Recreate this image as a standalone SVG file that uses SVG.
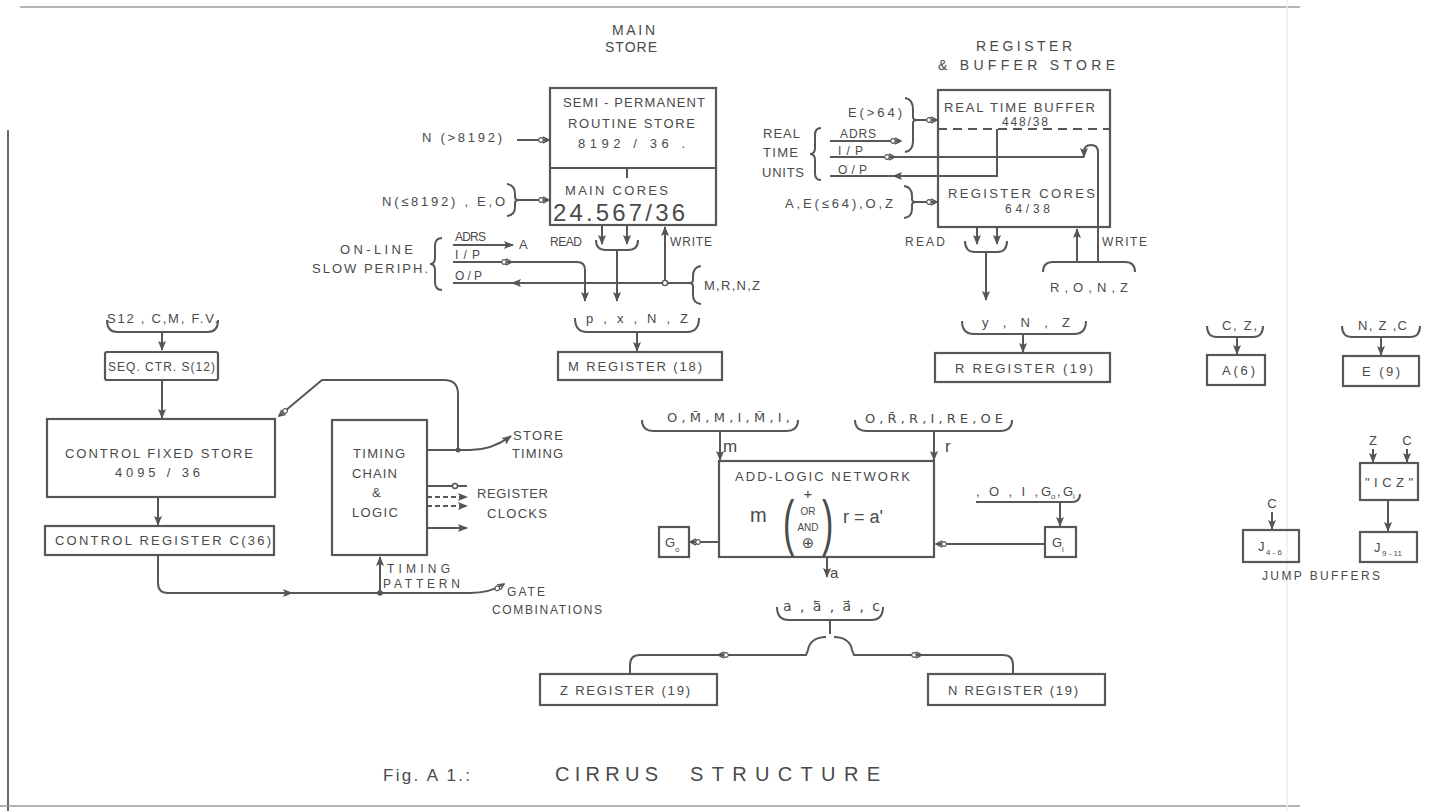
<svg xmlns="http://www.w3.org/2000/svg" width="1444" height="811" viewBox="0 0 1444 811">
<defs>
<style>
.t{font-family:"Liberation Sans","DejaVu Sans",sans-serif;font-size:13px;fill:#4a4a4a}
.s{font-size:12px}
.ti{font-size:14px}
.d{font-family:"DejaVu Sans","Liberation Sans",sans-serif}
.ln{fill:none;stroke:#575757;stroke-width:2}
.dash{stroke-dasharray:5 3}
.bx{fill:none;stroke:#575757;stroke-width:2.2}
.fr{fill:none;stroke:#9a9a9a;stroke-width:1.5}
</style>
<marker id="ar" viewBox="0 0 10 8" refX="9" refY="4" markerWidth="10" markerHeight="8" markerUnits="userSpaceOnUse" orient="auto"><path d="M0,0 L10,4 L0,8 L2,4 z" fill="#555"/></marker>
<marker id="ao" viewBox="0 0 12 8" refX="11" refY="4" markerWidth="12" markerHeight="8" markerUnits="userSpaceOnUse" orient="auto"><circle cx="3" cy="4" r="2.3" fill="#fff" stroke="#555" stroke-width="1.2"/><path d="M5,1 L11,4 L5,7" fill="none" stroke="#555" stroke-width="1.4"/></marker>
</defs>
<rect x="0" y="0" width="1444" height="811" fill="#fff"/>
<g id="scan-frame">
<path class="fr" d="M20,7 H1300"/>
<path class="fr" d="M8,130 V811" style="stroke:#666;stroke-width:2"/>
<path class="fr" d="M0,806 H1300"/>
<path class="fr" d="M1287,0 V811" style="stroke:#ececec"/>
</g>

<g id="main-store">
<text class="t ti" x="612" y="35" textLength="43">MAIN</text>
<text class="t ti" x="605" y="52" textLength="52">STORE</text>
<rect class="bx" x="550" y="88" width="166" height="137"/>
<path class="ln" d="M550,168 H716"/>
<text class="t" x="563" y="107" textLength="142">SEMI - PERMANENT</text>
<text class="t" x="568" y="128" textLength="127">ROUTINE STORE</text>
<text class="t" x="578" y="148" textLength="107">8192 / 36 .</text>
<text class="t" x="565" y="195" textLength="103">MAIN CORES</text>
<text class="t" x="553" y="221" style="font-size:24px" textLength="132">24.567/36</text>
</g>

<g id="register-store">
<text class="t ti" x="976" y="51" textLength="96">REGISTER</text>
<text class="t ti" x="938" y="70" textLength="177">&amp; BUFFER STORE</text>
<rect class="bx" x="938" y="90" width="172" height="137"/>
<path class="ln dash" d="M938,129 H1110" style="stroke-dasharray:9 6"/>
<text class="t" x="944" y="112" textLength="151">REAL TIME BUFFER</text>
<text class="t s" x="1002" y="126" textLength="46">448/38</text>
<text class="t" x="948" y="198" textLength="147">REGISTER CORES</text>
<text class="t s" x="1005" y="213" textLength="45">64/38</text>
</g>

<g id="main-store-io">
<text class="t" x="422" y="142" textLength="80">N (&gt;8192)</text>
<text class="t" x="382" y="206" textLength="123">N(≤8192) , E,O</text>
<text class="t" x="340" y="254" textLength="73">ON-LINE</text>
<text class="t" x="312" y="273" textLength="116">SLOW PERIPH.</text>
<text class="t s" x="455" y="241" textLength="31">ADRS</text>
<text class="t" x="519" y="249">A</text>
<text class="t s" x="455" y="259" textLength="25">I/P</text>
<text class="t s" x="455" y="280" textLength="27">O/P</text>
<text class="t s" x="550" y="246" textLength="32">READ</text>
<text class="t s" x="670" y="246" textLength="42">WRITE</text>
<text class="t" x="704" y="290" textLength="56">M,R,N,Z</text>
</g>

<g id="register-store-io">
<text class="t" x="763" y="138" textLength="37">REAL</text>
<text class="t" x="763" y="157" textLength="35">TIME</text>
<text class="t" x="762" y="177" textLength="42">UNITS</text>
<text class="t s" x="840" y="138" textLength="36">ADRS</text>
<text class="t s" x="838" y="155" textLength="25">I/P</text>
<text class="t s" x="838" y="174" textLength="29">O/P</text>
<text class="t" x="848" y="117" textLength="54">E(&gt;64)</text>
<text class="t" x="785" y="208" textLength="108">A,E(≤64),O,Z</text>
<text class="t s" x="905" y="246" textLength="40">READ</text>
<text class="t s" x="1102" y="246" textLength="45">WRITE</text>
<text class="t" x="1050" y="292" textLength="78">R,O,N,Z</text>
</g>

<g id="m-register">
<text class="t" x="586" y="323" textLength="102">p , x , N , Z</text>
<rect class="bx" x="558" y="352" width="164" height="28"/>
<text class="t" x="568" y="371" textLength="134">M REGISTER  (18)</text>
</g>

<g id="r-register">
<text class="t" x="982" y="327" textLength="88">y , N , Z</text>
<rect class="bx" x="935" y="353" width="175" height="29"/>
<text class="t" x="955" y="373" textLength="138">R REGISTER  (19)</text>
</g>

<g id="seq-ctr">
<text class="t" x="107" y="323" textLength="111">S12 , C,M, F.V.</text>
<rect class="bx" x="105" y="352" width="113" height="28" rx="2"/>
<text class="t s" x="108" y="371" textLength="107">SEQ. CTR. S(12)</text>
</g>

<g id="control-fixed-store">
<rect class="bx" x="47" y="419" width="228" height="78"/>
<text class="t" x="65" y="458" textLength="188">CONTROL FIXED STORE</text>
<text class="t" x="115" y="477" textLength="85">4095 / 36</text>
</g>

<g id="control-register">
<rect class="bx" x="45" y="526" width="229" height="29"/>
<text class="t" x="55" y="545" textLength="216">CONTROL REGISTER  C(36)</text>
</g>

<g id="timing-chain">
<rect class="bx" x="332" y="420" width="95" height="135"/>
<text class="t" x="353" y="458" textLength="52">TIMING</text>
<text class="t" x="352" y="478" textLength="45">CHAIN</text>
<text class="t" x="372" y="497">&amp;</text>
<text class="t" x="352" y="517" textLength="46">LOGIC</text>
<text class="t" x="513" y="440" textLength="50">STORE</text>
<text class="t" x="512" y="458" textLength="51">TIMING</text>
<text class="t" x="477" y="498" textLength="71">REGISTER</text>
<text class="t" x="487" y="518" textLength="60">CLOCKS</text>
<text class="t s" x="387" y="573" textLength="63">TIMING</text>
<text class="t s" x="383" y="588" textLength="77">PATTERN</text>
<text class="t s" x="507" y="596" textLength="38">GATE</text>
<text class="t s" x="492" y="614" textLength="110">COMBINATIONS</text>
</g>

<g id="add-logic-network">
<text class="t d" x="667" y="422" textLength="123">O,M̄,M,I,M̃,I,</text>
<text class="t" x="723" y="452" style="font-size:17px">m</text>
<text class="t d" x="865" y="423" textLength="138">O,R̄,R,I,RE,OE</text>
<text class="t" x="945" y="452" style="font-size:17px">r</text>
<rect class="bx" x="719" y="461" width="215" height="96"/>
<text class="t" x="735" y="481" textLength="175">ADD-LOGIC NETWORK</text>
<text class="t" x="750" y="522" style="font-size:20px">m</text>
<text class="t" x="0" y="0" style="font-size:62px" transform="translate(783,543) scale(0.55,1)">(</text>
<text class="t" x="0" y="0" style="font-size:62px" transform="translate(822,543) scale(0.55,1)">)</text>
<text class="t" x="808" y="499" text-anchor="middle" style="font-size:15px">+</text>
<text class="t" x="808" y="515" text-anchor="middle" style="font-size:10px">OR</text>
<text class="t" x="808" y="531" text-anchor="middle" style="font-size:10px">AND</text>
<text class="t d" x="808" y="548" text-anchor="middle" style="font-size:15px">⊕</text>
<text class="t" x="843" y="523" style="font-size:18px">r = a'</text>
<text class="t" x="830" y="578" style="font-size:15px">a</text>
</g>

<g id="g0">
<rect class="bx" x="659" y="527" width="30" height="30"/>
<text class="t" x="665" y="547">G</text><text class="t" x="675" y="552" style="font-size:8px">o</text>
</g>

<g id="gi">
<text class="t" x="976" y="496" textLength="62">, O , I ,</text>
<text class="t" x="1041" y="496">G</text><text class="t" x="1051" y="499" style="font-size:8px">o</text>
<text class="t" x="1057" y="496">,</text>
<text class="t" x="1063" y="496">G</text><text class="t" x="1073" y="499" style="font-size:8px">i</text>
<rect class="bx" x="1045" y="527" width="31" height="30"/>
<text class="t" x="1052" y="547">G</text><text class="t" x="1062" y="552" style="font-size:8px">i</text>
</g>

<g id="z-register">
<text class="t d" x="783" y="611" style="font-size:14px" textLength="97">a , a⃖ , a⃗ , c</text>
<rect class="bx" x="540" y="674" width="177" height="31"/>
<text class="t" x="560" y="695" textLength="130">Z REGISTER  (19)</text>
</g>

<g id="n-register">
<rect class="bx" x="928" y="674" width="177" height="31"/>
<text class="t" x="948" y="695" textLength="130">N REGISTER  (19)</text>
</g>

<g id="a-register">
<text class="t" x="1222" y="330" textLength="35">C, Z,</text>
<rect class="bx" x="1207" y="355" width="58" height="30"/>
<text class="t" x="1222" y="375" textLength="33">A(6)</text>
</g>

<g id="e-register">
<text class="t" x="1358" y="330" textLength="49">N, Z ,C</text>
<rect class="bx" x="1343" y="356" width="76" height="30"/>
<text class="t" x="1362" y="376" textLength="38">E (9)</text>
</g>

<g id="icz">
<text class="t" x="1373" y="445" text-anchor="middle">Z</text>
<text class="t" x="1407" y="445" text-anchor="middle">C</text>
<rect class="bx" x="1360" y="463" width="58" height="37"/>
<text class="t" x="1365" y="487" textLength="48">"ICZ"</text>
</g>

<g id="j4-6">
<text class="t" x="1272" y="508" text-anchor="middle">C</text>
<rect class="bx" x="1243" y="530" width="56" height="32"/>
<text class="t" x="1258" y="551">J</text><text class="t" x="1266" y="555" style="font-size:8px">4 - 6</text>
</g>

<g id="j9-11">
<rect class="bx" x="1360" y="532" width="57" height="30"/>
<text class="t" x="1374" y="552">J</text><text class="t" x="1382" y="556" style="font-size:8px">9 - 11</text>
<text class="t s" x="1262" y="580" textLength="118">JUMP BUFFERS</text>
</g>

<g id="caption">
<text class="t" x="383" y="781" style="font-size:17px" textLength="87">Fig.  A  1.:</text>
<text class="t" x="555" y="781" style="font-size:20px" textLength="103">CIRRUS</text>
<text class="t" x="690" y="781" style="font-size:20px" textLength="190">STRUCTURE</text>
</g>

<g id="connectors">
<path class="ln" d="M517,140 H549" marker-end="url(#ao)"/>
<path class="ln" d="M507,184 Q515,185 515,194 V197 Q515,200 519,200 Q515,200 515,203 V207 Q515,215 507,216"/>
<path class="ln" d="M519,200 H549" marker-end="url(#ao)"/>
<path class="ln" d="M627,168 V178"/>
<path class="ln" d="M602,226 V244" marker-end="url(#ar)"/>
<path class="ln" d="M627,226 V244" marker-end="url(#ar)"/>
<path class="ln" d="M596,240 Q596,250 606,250 H628 Q638,250 638,240"/>
<path class="ln" d="M617,250 V301" marker-end="url(#ar)"/>
<path class="ln" d="M442,238 Q435,238 435,246 V258 Q435,264 430,264 Q435,264 435,270 V282 Q435,290 442,290"/>
<path class="ln" d="M453,245 H513" marker-end="url(#ar)"/>
<path class="ln" d="M453,262 H512" marker-end="url(#ao)"/>
<path class="ln" d="M510,262 H577 Q585,262 585,270 V301" marker-end="url(#ar)"/>
<path class="ln" d="M665,283 H512" marker-end="url(#ar)"/>
<path class="ln" d="M514,283 H453"/>
<path class="ln" d="M665,283 V227" marker-end="url(#ar)"/>
<path class="ln" d="M665,283 H689"/>
<path class="ln" d="M701,266 Q693,267 693,276 V280 Q693,283 689,283 Q693,283 693,286 V295 Q693,303 701,304"/>
<circle cx="665" cy="283" r="2.6" fill="#fff" stroke="#555" stroke-width="1.4"/>
<path class="ln" d="M575,318 Q575,332 587,332 H687 Q699,332 699,318"/>
<path class="ln" d="M637,332 V351" marker-end="url(#ar)"/>
<path class="ln" d="M905,98 Q913,99 913,110 V117 Q913,120 917,120 Q913,120 913,123 V141 Q913,151 905,152"/>
<path class="ln" d="M917,120 H937" marker-end="url(#ao)"/>
<path class="ln" d="M821,128 Q815,128 815,135 V148 Q815,154 810,154 Q815,154 815,160 V173 Q815,180 821,180"/>
<path class="ln" d="M830,141 H901" marker-end="url(#ao)"/>
<path class="ln" d="M830,157 H895" marker-end="url(#ao)"/>
<path class="ln" d="M893,157 H1084"/>
<path class="ln" d="M997,129 V176 H893" marker-end="url(#ar)"/>
<path class="ln" d="M895,176 H830"/>
<path class="ln" d="M904,186 Q912,187 912,196 V199 Q912,202 916,202 Q912,202 912,205 V209 Q912,217 904,218"/>
<path class="ln" d="M916,202 H937" marker-end="url(#ao)"/>
<path class="ln" d="M977,228 V244" marker-end="url(#ar)"/>
<path class="ln" d="M997,228 V244" marker-end="url(#ar)"/>
<path class="ln" d="M965,241 Q965,252 975,252 H997 Q1007,252 1007,241"/>
<path class="ln" d="M986,252 V300" marker-end="url(#ar)"/>
<path class="ln" d="M962,321 Q962,334 974,334 H1074 Q1086,334 1086,321"/>
<path class="ln" d="M1023,334 V352" marker-end="url(#ar)"/>
<path class="ln" d="M1043,272 Q1043,262 1053,262 H1125 Q1135,262 1135,272"/>
<path class="ln" d="M1098,262 V152 Q1098,145 1091,145 Q1084,145 1084,152 V157" marker-end="url(#ar)"/>
<path class="ln" d="M1077,262 V229" marker-end="url(#ar)"/>
<path class="ln" d="M107,320 Q107,332 117,332 H208 Q218,332 218,320"/>
<path class="ln" d="M162,332 V350" marker-end="url(#ar)"/>
<path class="ln" d="M162,381 V418" marker-end="url(#ar)"/>
<path class="ln" d="M158,497 V525" marker-end="url(#ar)"/>
<path class="ln" d="M158,556 V583 Q158,593 168,593 H292" marker-end="url(#ar)"/>
<path class="ln" d="M290,593 H470 Q490,593 504,584" marker-end="url(#ao)"/>
<circle cx="380" cy="593" r="2.8" fill="#555"/>
<path class="ln" d="M380,593 V557" marker-end="url(#ar)"/>
<path class="ln" d="M458,450 V394 Q458,380 444,380 H322 L279,416" marker-end="url(#ao)"/>
<path class="ln" d="M427,450 H470 Q492,450 511,436" marker-end="url(#ar)"/>
<circle cx="458" cy="450" r="2.5" fill="#555"/>
<path class="ln" d="M427,486 H467"/>
<circle cx="455" cy="486" r="2.5" fill="#fff" stroke="#555" stroke-width="1.4"/>
<path class="ln dash" d="M427,497 H467" marker-end="url(#ar)"/>
<path class="ln dash" d="M427,506 H467" marker-end="url(#ar)"/>
<path class="ln" d="M427,528 H467" marker-end="url(#ar)"/>
<path class="ln" d="M642,420 Q642,431 654,431 H786 Q798,431 798,420"/>
<path class="ln" d="M720,431 V460" marker-end="url(#ar)"/>
<path class="ln" d="M855,420 Q855,431 867,431 H1000 Q1012,431 1012,420"/>
<path class="ln" d="M934,431 V460" marker-end="url(#ar)"/>
<path class="ln" d="M718,542 H690" marker-end="url(#ao)"/>
<path class="ln" d="M1045,544 H936" marker-end="url(#ao)"/>
<path class="ln" d="M976,502 H1072 Q1080,502 1080,494"/>
<path class="ln" d="M1060,502 V526" marker-end="url(#ar)"/>
<path class="ln" d="M827,558 V577" marker-end="url(#ar)"/>
<path class="ln" d="M777,607 Q777,620 789,620 H871 Q883,620 883,607"/>
<path class="ln" d="M830,620 V634"/>
<path class="ln" d="M826,637 C816,637 809,642 808,650 L806,655 H718" marker-end="url(#ao)"/>
<path class="ln" d="M720,655 H640 Q630,655 630,665 V674"/>
<path class="ln" d="M834,637 C844,637 851,642 852,650 L854,655 H922" marker-end="url(#ao)"/>
<path class="ln" d="M920,655 H1003 Q1013,655 1013,665 V674"/>
<path class="ln" d="M1207,326 Q1207,337 1217,337 H1253 Q1263,337 1263,326"/>
<path class="ln" d="M1237,337 V354" marker-end="url(#ar)"/>
<path class="ln" d="M1342,326 Q1342,337 1352,337 H1410 Q1420,337 1420,326"/>
<path class="ln" d="M1381,337 V355" marker-end="url(#ar)"/>
<path class="ln" d="M1373,449 V462" marker-end="url(#ar)"/>
<path class="ln" d="M1407,449 V462" marker-end="url(#ar)"/>
<path class="ln" d="M1388,500 V531" marker-end="url(#ar)"/>
<path class="ln" d="M1272,512 V529" marker-end="url(#ar)"/>
</g>
</svg>
